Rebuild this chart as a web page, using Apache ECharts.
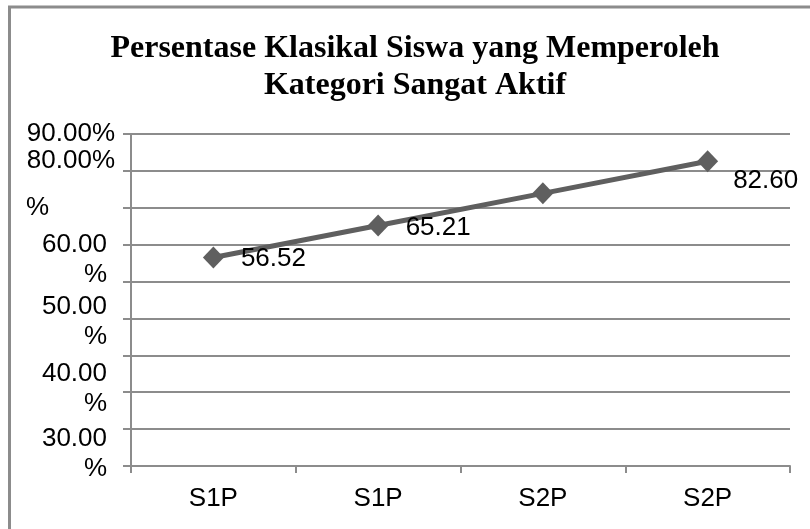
<!DOCTYPE html>
<html>
<head>
<meta charset="utf-8">
<script src="https://cdn.jsdelivr.net/npm/echarts@6/dist/echarts.min.js"></script>
<style>
html,body{margin:0;padding:0;background:#fff;}
#chart{width:810px;height:529px;}
</style>
</head>
<body>
<div id="chart"></div>
<script>
const titleText = 'Persentase Klasikal Siswa yang Memperoleh\nKategori Sangat Aktif';
const categories = ['S1P', 'S1P', 'S2P', 'S2P'];
const values = [56.52, 65.21, 73.91, 82.60];
const valueLabels = ['56.52', '65.21', '', '82.60'];
const yTickValues = [90, 80, 70, 60, 50, 40, 30];
const yTickLabels = ['90.00%', '80.00%', '%', '60.00\n%', '50.00\n%', '40.00\n%', '30.00\n%'];

// label layout (styling only)
const spacerTop = {60: 30, 50: 80, 40: 140, 30: 196};
const spacerBottom = {80: 20};
const FONT = "'Liberation Sans', Arial, sans-serif";

const rich = {
  t: {fontSize: 26, fontFamily: FONT, color: '#000', lineHeight: 30},
  t2: {fontSize: 26, fontFamily: FONT, color: '#000', lineHeight: 30, padding: [0, 8, 0, 0]},
  tp: {fontSize: 26, fontFamily: FONT, color: '#000', lineHeight: 30, padding: [0, 66, 0, 0]}
};
[20, 30, 80, 140, 196].forEach(h => { rich['s' + h] = {fontSize: 1, lineHeight: h}; });

function yFormatter(v) {
  const i = yTickValues.indexOf(v);
  if (i < 0) return '';
  const lines = yTickLabels[i].split('\n');
  let out = [];
  if (spacerTop[v]) out.push('{s' + spacerTop[v] + '| }');
  const style = lines.length > 1 ? 't2' : (lines[0] === '%' ? 'tp' : 't');
  lines.forEach(l => out.push('{' + style + '|' + l + '}'));
  if (spacerBottom[v]) out.push('{s' + spacerBottom[v] + '| }');
  return out.join('\n');
}

const labelOffsets = [[0, 1], [0, 2], [0, 0], [-2, 20]];

const chart = echarts.init(document.getElementById('chart'), null, {renderer: 'canvas'});
chart.setOption({
  animation: false,
  backgroundColor: '#fff',
  title: {
    text: titleText,
    left: 415,
    textAlign: 'center',
    top: 30,
    padding: 0,
    textStyle: {
      fontFamily: "'Liberation Serif', 'Times New Roman', serif",
      fontWeight: 'bold',
      fontSize: 32,
      lineHeight: 37,
      color: '#000'
    }
  },
  graphic: [{
    type: 'rect',
    shape: {x: 9.5, y: 7, width: 1000, height: 1000},
    style: {fill: 'none', stroke: '#8c8c8c', lineWidth: 3},
    silent: true
  }],
  grid: {left: 131, right: 20, top: 134, bottom: 63},
  xAxis: {
    type: 'category',
    data: categories,
    boundaryGap: true,
    axisLine: {show: true, lineStyle: {color: '#8c8c8c', width: 2}},
    axisTick: {show: true, length: 7, lineStyle: {color: '#8c8c8c', width: 2}},
    axisLabel: {fontSize: 26, fontFamily: FONT, color: '#000', margin: 20}
  },
  yAxis: {
    type: 'value',
    min: 0,
    max: 90,
    interval: 10,
    axisLine: {show: true, lineStyle: {color: '#8c8c8c', width: 2}},
    axisTick: {show: true, length: 8, lineStyle: {color: '#8c8c8c', width: 2}},
    splitLine: {show: true, lineStyle: {color: '#8c8c8c', width: 2}},
    axisLabel: {
      margin: 16,
      align: 'right',
      formatter: yFormatter,
      rich: rich
    }
  },
  series: [{
    type: 'line',
    data: values.map((v, i) => ({
      value: v,
      label: {
        show: valueLabels[i] !== '',
        offset: labelOffsets[i]
      }
    })),
    symbol: 'diamond',
    symbolSize: [21, 22],
    showSymbol: true,
    lineStyle: {color: '#5f5f5f', width: 5},
    itemStyle: {color: '#5f5f5f'},
    label: {
      show: true,
      position: 'right',
      distance: 17,
      fontSize: 26,
      fontFamily: FONT,
      color: '#000',
      formatter: p => valueLabels[p.dataIndex]
    }
  }]
});
</script>
</body>
</html>
